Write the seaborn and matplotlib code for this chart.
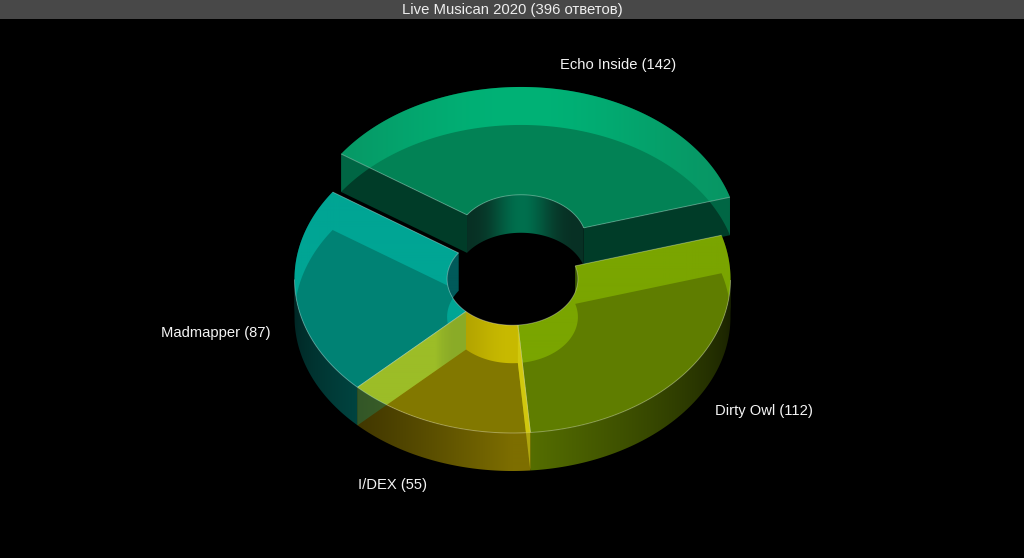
import numpy as np
import matplotlib
matplotlib.use("Agg")
import matplotlib.pyplot as plt
import seaborn as sns
from matplotlib.path import Path
from matplotlib.patches import PathPatch, Polygon, Rectangle
from matplotlib.collections import LineCollection

# ---- data ----
title = "Live Musican 2020 (396 ответов)"
labels = ["Echo Inside", "Dirty Owl", "I/DEX", "Madmapper"]
values = [142, 112, 55, 87]
explode = [0.25, 0.0, 0.0, 0.0]

# ---- style ----
base = sns.color_palette(["#00c885", "#7fb000", "#d2c000", "#00c8b4"])
bright = [(0, 178, 118), (122, 165, 0), (200, 186, 0), (0, 165, 148)]
bright_edge = [(8, 150, 100), (122, 165, 0), (178, 163, 0), (0, 165, 148)]
bright_w = [1.0, 1.0, 0.25, 1.0]
dark = [(2, 130, 85), (95, 125, 0), (130, 120, 0), (0, 130, 116)]
near_hi = [(0, 60, 40), (85, 110, 0), (125, 110, 0), (0, 68, 64)]
near_lo = [(0, 60, 40), (24, 32, 0), (66, 56, 0), (0, 38, 36)]
inner_hi = [(0, 112, 78), (60, 90, 0), (150, 140, 0), (0, 90, 90)]
inner_lo = [(8, 48, 36), (60, 90, 0), (150, 140, 0), (0, 90, 90)]
label_xy = [(618, 64.5), (764, 411.5), (393, 484.5), (216, 332.5)]

CX, CY, A, B, RIN, DEPTH = 512.5, 279.0, 218.0, 154.0, 0.30, 38.0
START = 145.6

sns.set_theme(style="dark", rc={
    "figure.facecolor": "black", "axes.facecolor": "black",
    "savefig.facecolor": "black"})
plt.rcParams["font.family"] = ["Liberation Sans", "DejaVu Sans"]

fig = plt.figure(figsize=(10.24, 5.58), dpi=100)
ax = fig.add_axes([0, 0, 1, 1])


def rgb(c):
    return tuple(v / 255 for v in c)


def pts(theta, r, off, depth=0.0):
    th = np.radians(np.atleast_1d(theta))
    return np.column_stack([CX + off[0] + r * A * np.cos(th),
                            CY + off[1] - r * B * np.sin(th) + depth])


def sector(t0, t1, off, depth=0.0):
    th = np.linspace(t0, t1, 160)
    p = np.vstack([pts(th, 1, off, depth), pts(th[::-1], RIN, off, depth)])
    return Path(np.vstack([p, p[:1]]), closed=True)


def band(th, r, off):
    return np.vstack([pts(th, r, off), pts(th[::-1], r, off, DEPTH)])


def radial_wall(t, off):
    return np.vstack([pts(t, RIN, off), pts(t, 1, off),
                      pts(t, 1, off, DEPTH), pts(t, RIN, off, DEPTH)])


def gradient(clip, weight, c_lo, c_hi, z):
    """Paint a horizontal colour ramp over a path; weight(x) runs from 0 to 1."""
    bb = clip.get_extents()
    xs = np.arange(np.floor(bb.x0), np.ceil(bb.x1) + 1)
    t = np.clip(weight(xs), 0, 1)[:, None]
    row = (np.array(c_lo) * (1 - t) + np.array(c_hi) * t) / 255
    im = ax.imshow(row[None, :, :], extent=[xs[0] - 0.5, xs[-1] + 0.5, bb.y1 + 1, bb.y0 - 1],
                   aspect="auto", interpolation="bilinear", zorder=z)
    im.set_clip_path(clip, ax.transData)


total = sum(values)
spans = [v / total * 360 for v in values]
edges = START - np.concatenate([[0], np.cumsum(spans)])
mids = (edges[:-1] + edges[1:]) / 2
offs = [(e * A * np.cos(np.radians(m)), -e * B * np.sin(np.radians(m)))
        for e, m in zip(explode, mids)]

ax.add_patch(Rectangle((0, 0), 1024, 18.5, fc="#484848", ec="none", zorder=20))
ax.text(512, 9.6, title, color="#eeeeee", fontsize=10.7, ha="center",
        va="center", zorder=21)

# paint order: exploded slice first, then the neighbours
order = [0, 3, 1, 2]
for n, i in enumerate(order):
    z = 2 + n * 2
    t0, t1 = edges[i], edges[i + 1]
    off = offs[i]
    cx = CX + off[0]
    th = np.linspace(t0, t1, 200)
    s = np.sin(np.radians(th))
    c = base[i]

    # walls: back-facing outer part, radial faces
    far = th[s > 0]
    if len(far) > 1:
        ax.add_patch(Polygon(band(far, 1, off), fc=c, ec="none", alpha=0.3, zorder=z))
    for t in (t0, t1):
        ax.add_patch(Polygon(radial_wall(t, off), fc=c, ec="none", alpha=0.3, zorder=z))

    # front-facing outer wall
    near = th[s <= 0]
    if len(near) > 1:
        v_near = near[np.argmin(np.abs(near + 90))]
        v_far = near[np.argmax(np.abs(near + 90))]

        def w_near(x, v_near=v_near, v_far=v_far):
            v = -np.degrees(np.arccos(np.clip((x - cx) / A, -1, 1)))
            return (np.abs(v - v_far) / max(abs(v_near - v_far), 1e-6)) ** 1.3
        gradient(Path(np.vstack([band(near, 1, off), pts(near[0], 1, off)]), closed=True),
                 w_near, near_lo[i], near_hi[i], z)

    # front-facing inner wall
    fin = th[s > 0]
    if len(fin) > 1:
        def w_in(x):
            v = np.arccos(np.clip((x - cx) / (A * RIN), -1, 1))
            return np.sin(v) ** 10
        gradient(Path(np.vstack([band(fin, RIN, off), pts(fin[0], RIN, off)]), closed=True),
                 w_in, inner_lo[i], inner_hi[i], z)

    # top face: brighter where only back-facing walls lie behind it
    top = sector(t0, t1, off)
    bottom = sector(t0, t1, off, DEPTH)
    w = bright_w[i]

    def w_top(x, w=w):
        u = (x - cx) / A
        return (1 - (u / w) ** 2) ** 2
    gradient(top, w_top, bright_edge[i], bright[i], z + 0.2)
    dk = PathPatch(bottom, fc=rgb(dark[i]), ec="none", zorder=z + 0.4)
    ax.add_patch(dk)
    dk.set_clip_path(top, ax.transData)

    # thin light edges (the far outer arc has none)
    segs = [pts(np.array([t0]), RIN, off).tolist() + pts(np.array([t0]), 1, off).tolist(),
            pts(np.array([t1]), RIN, off).tolist() + pts(np.array([t1]), 1, off).tolist(),
            pts(th, RIN, off)]
    if len(near) > 1:
        segs.append(pts(near, 1, off))
    ax.add_collection(LineCollection(segs, colors=[(1, 1, 1, 0.32)], linewidths=0.7,
                                     zorder=z + 0.5))

# radial faces seen through the neighbouring slice
ax.add_patch(Polygon(radial_wall(edges[3], offs[3]), fc=base[3], ec="none",
                     alpha=0.22, zorder=15))
ax.add_patch(Polygon(radial_wall(edges[2], offs[2]), fc=(0.86, 0.84, 0.1), ec="none",
                     alpha=0.55, zorder=15))

for name, v, (x, y) in zip(labels, values, label_xy):
    ax.text(x, y, f"{name} ({v})", color="#f4f4f4", fontsize=10.6,
            ha="center", va="center", zorder=21)

ax.set_xlim(0, 1024)
ax.set_ylim(558, 0)
ax.set_axis_off()
fig.savefig("out.png", dpi=100, facecolor="black")
